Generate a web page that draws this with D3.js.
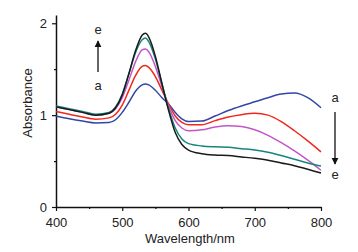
<!DOCTYPE html>
<html>
<head>
<meta charset="utf-8">
<script src="https://cdn.jsdelivr.net/npm/d3@7"></script>
<style>
  body { margin: 0; background: #fff; }
  svg text { font-family: "Liberation Sans", Arial, sans-serif; font-size: 13px; fill: #222; }
</style>
</head>
<body>
<svg width="358" height="252"></svg>
<script>
// wavelengths (nm) and absorbance of the five spectra a..e
var wavelengths = [400, 420, 440, 460, 480, 490, 500, 510, 520, 530, 535, 540, 550, 560, 570, 580, 590, 600, 620, 640, 660, 680, 700, 720, 740, 760, 780, 800];
var seriesA = [0.99, 0.96, 0.935, 0.915, 0.92, 0.95, 1.03, 1.14, 1.26, 1.33, 1.34, 1.33, 1.27, 1.19, 1.12, 1.03, 0.96, 0.93, 0.935, 0.99, 1.05, 1.10, 1.145, 1.19, 1.23, 1.24, 1.19, 1.08];
var seriesB = [1.04, 1.01, 0.98, 0.955, 0.97, 1.01, 1.11, 1.27, 1.43, 1.53, 1.54, 1.52, 1.42, 1.27, 1.12, 0.99, 0.92, 0.895, 0.895, 0.94, 0.98, 1.005, 1.02, 1.00, 0.93, 0.83, 0.72, 0.60];
var seriesC = [1.09, 1.06, 1.03, 1.00, 1.02, 1.07, 1.19, 1.38, 1.58, 1.71, 1.72, 1.69, 1.53, 1.31, 1.10, 0.94, 0.86, 0.83, 0.84, 0.87, 0.885, 0.875, 0.84, 0.78, 0.70, 0.61, 0.51, 0.40];
var seriesD = [1.10, 1.07, 1.04, 1.01, 1.03, 1.09, 1.23, 1.45, 1.68, 1.82, 1.84, 1.80, 1.61, 1.34, 1.07, 0.86, 0.74, 0.69, 0.665, 0.655, 0.65, 0.635, 0.62, 0.595, 0.56, 0.52, 0.48, 0.445];
var seriesE = [1.09, 1.06, 1.03, 1.00, 1.02, 1.08, 1.22, 1.45, 1.70, 1.87, 1.89, 1.85, 1.64, 1.34, 1.05, 0.81, 0.68, 0.62, 0.58, 0.565, 0.56, 0.545, 0.53, 0.51, 0.48, 0.45, 0.41, 0.37];
var colors = ["#3346a6", "#f2261c", "#c356c6", "#17857d", "#1a1a1a"];
var xTicks = [400, 500, 600, 700, 800];
var yTicks = [0, 1, 2];

var svg = d3.select("svg");
var x = d3.scaleLinear().domain([400, 800]).range([56, 321]);
var y = d3.scaleLinear().domain([0, 2.09]).range([207, 15]);

// minor ticks
svg.append("g").attr("transform", "translate(0,207)")
  .call(d3.axisBottom(x).tickValues([450, 550, 650, 750]).tickSize(2).tickFormat(""))
  .call(function(g){ g.select(".domain").remove(); });
svg.append("g").attr("transform", "translate(56,0)")
  .call(d3.axisLeft(y).tickValues([0.5, 1.5]).tickSize(2).tickFormat(""))
  .call(function(g){ g.select(".domain").remove(); });

var xa = svg.append("g").attr("transform", "translate(0,207)")
  .call(d3.axisBottom(x).tickValues(xTicks).tickSize(4).tickPadding(7).tickSizeOuter(0));
var ya = svg.append("g").attr("transform", "translate(56,0)")
  .call(d3.axisLeft(y).tickValues(yTicks).tickFormat(d3.format("d")).tickSize(4).tickPadding(5).tickSizeOuter(0));

svg.selectAll(".domain").attr("stroke", "#111").attr("stroke-width", 1.5);
svg.selectAll(".tick line").attr("stroke", "#111").attr("stroke-width", 1.2);
svg.selectAll(".tick text").style("font-size", "13px").attr("fill", "#222");

svg.append("text").attr("x", 190).attr("y", 243).attr("text-anchor", "middle").text("Wavelength/nm");
svg.append("text").attr("transform", "translate(32,103)rotate(-90)").attr("text-anchor", "middle").text("Absorbance");

var line = d3.line()
  .x(function(d){ return x(d[0]); })
  .y(function(d){ return y(d[1]); })
  .curve(d3.curveMonotoneX);

[seriesA, seriesB, seriesC, seriesD, seriesE].forEach(function(s, i){
  svg.append("path")
    .datum(wavelengths.map(function(w, j){ return [w, s[j]]; }))
    .attr("d", line)
    .attr("fill", "none")
    .attr("stroke", colors[i])
    .attr("stroke-width", 1.5);
});

// arrows and labels
svg.append("defs").append("marker").attr("id", "ah")
  .attr("viewBox", "0 0 10 10").attr("refX", 9).attr("refY", 5)
  .attr("markerWidth", 7).attr("markerHeight", 8).attr("orient", "auto")
  .attr("markerUnits", "userSpaceOnUse")
  .append("path").attr("d", "M0,0L10,5L0,10Z").attr("fill", "#111");

function arrow(x0, y0, y1) {
  svg.append("line").attr("x1", x0).attr("x2", x0).attr("y1", y0).attr("y2", y1)
    .attr("stroke", "#111").attr("stroke-width", 1.3).attr("marker-end", "url(#ah)");
}
arrow(98, 72, 41);
arrow(335, 112, 164);
svg.append("text").attr("x", 98).attr("y", 34).attr("text-anchor", "middle").text("e");
svg.append("text").attr("x", 98).attr("y", 90).attr("text-anchor", "middle").text("a");
svg.append("text").attr("x", 335).attr("y", 102).attr("text-anchor", "middle").text("a");
svg.append("text").attr("x", 335).attr("y", 179).attr("text-anchor", "middle").text("e");
</script>
</body>
</html>
